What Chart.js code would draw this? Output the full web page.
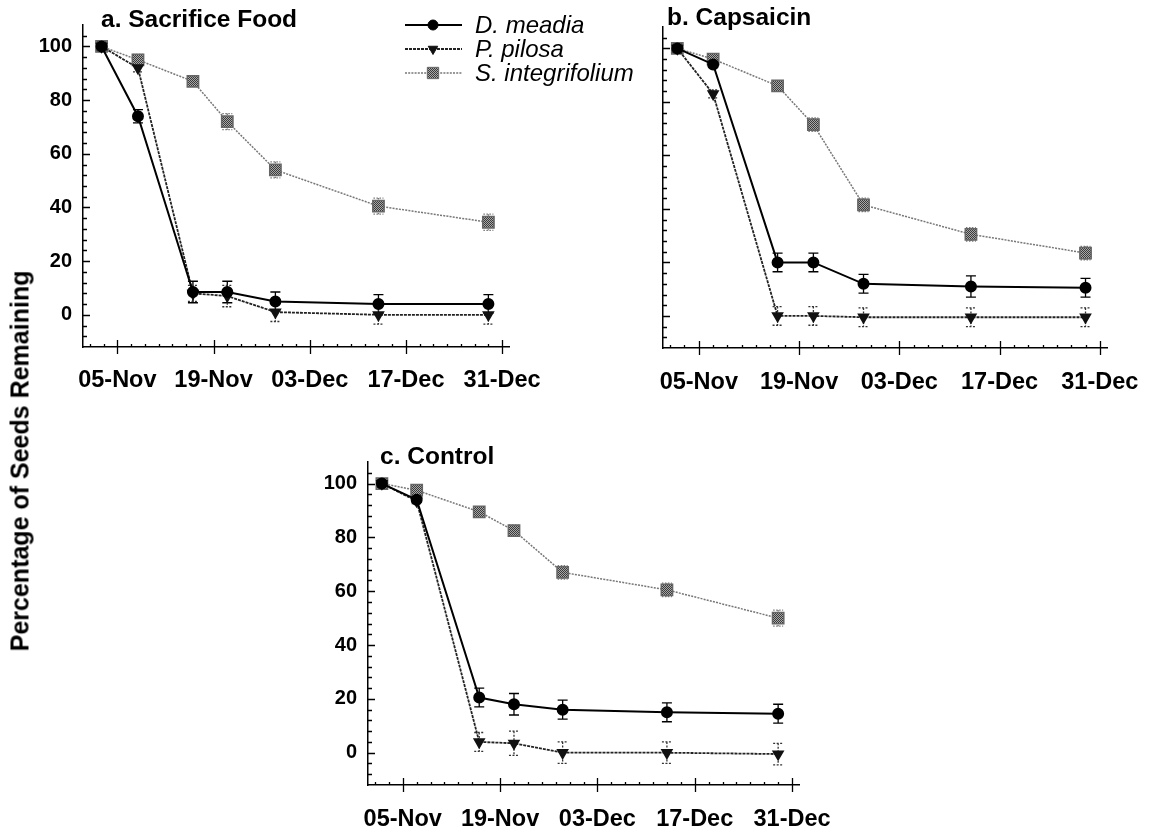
<!DOCTYPE html>
<html>
<head>
<meta charset="utf-8">
<script src="https://cdn.jsdelivr.net/npm/chart.js@4.4.1/dist/chart.umd.min.js"></script>
<style>
  body { margin: 0; background: #fff; width: 1161px; height: 832px; overflow: hidden; position: relative; font-family: 'Liberation Sans', Arial, sans-serif; }
  canvas { position: absolute; }
  .ttl { position: absolute; font-weight: bold; font-size: 24.5px; line-height: 24px; color: #000; white-space: nowrap; }
  #ylab { position: absolute; left: 20px; top: 461px; transform: translate(-50%, -50%) rotate(-90deg); font-weight: bold; font-size: 25px; white-space: nowrap; color: #000; }
</style>
</head>
<body>
<canvas id="chartA" width="660" height="400" style="left:0;top:0;width:660px;height:400px"></canvas>
<canvas id="chartB" width="561" height="400" style="left:600px;top:0;width:561px;height:400px"></canvas>
<canvas id="chartC" width="581" height="432" style="left:280px;top:400px;width:581px;height:432px"></canvas>
<div class="ttl" style="left:101px;top:7px">a. Sacrifice Food</div>
<div class="ttl" style="left:667px;top:5px">b. Capsaicin</div>
<div class="ttl" style="left:380px;top:444px">c. Control</div>
<div id="ylab">Percentage of Seeds Remaining</div>
<script>
'use strict'

// days counted from 05-Nov
const sampleDays = [-3, 2, 11, 16, 23, 38, 54];
const sampleDaysA = [-2.3, 3, 11, 16, 23, 38, 54];
const tickDays = [0, 14, 28, 42, 56];
const tickLabels = ['05-Nov', '19-Nov', '03-Dec', '17-Dec', '31-Dec'];
const yTicks = [0, 20, 40, 60, 80, 100];
const speciesNames = ['D. meadia', 'P. pilosa', 'S. integrifolium'];

// a. Sacrifice Food
const meadiaA = [100, 74, 8.5, 8.5, 5, 4, 4];
const meadiaErrA = [0, 2.5, 4, 4, 3.5, 3.5, 3.5];
const pilosaA = [100, 92, 8, 7, 1, 0, 0];
const pilosaErrA = [0, 1.5, 3, 4, 3.5, 3.5, 3.5];
const integA = [100, 95, 87, 72, 54, 40.5, 34.5];
const integErrA = [0, 2, 1, 3, 3, 3, 3];

// b. Capsaicin
const meadiaB = [100, 94, 20, 20, 12, 11, 10.5];
const meadiaErrB = [0, 1, 3.5, 3.5, 3.5, 4, 3.5];
const pilosaB = [100, 83, 0, 0, -0.5, -0.5, -0.5];
const pilosaErrB = [0, 1.5, 3.5, 3.5, 3.5, 3.5, 3.5];
const integB = [100, 96, 86, 71.5, 41.5, 30.5, 23.5];
const integErrB = [0, 1, 1, 2.5, 2.5, 2.5, 2.5];

// c. Control
const meadiaC = [100, 94, 20.5, 18, 16, 15, 14.5];
const meadiaErrC = [0, 1, 3.5, 4, 3.5, 3.5, 3.5];
const pilosaC = [100, 93.5, 4, 3.5, 0, 0, -0.5];
const pilosaErrC = [0, 1, 3.5, 4.5, 4, 4, 4];
const integC = [100, 97.5, 89.5, 82.5, 67, 60.5, 50];
const integErrC = [0, 1.5, 1, 2, 2.5, 2.5, 3];

Chart.defaults.font.family = "'Liberation Sans', Arial, sans-serif";
Chart.defaults.color = '#000';

// grainy grey fill for the squares
const patCanvas = document.createElement('canvas');
patCanvas.width = 2; patCanvas.height = 2;
const pctx = patCanvas.getContext('2d');
pctx.fillStyle = '#a8a8a8'; pctx.fillRect(0, 0, 2, 2);
pctx.fillStyle = '#3a3a3a'; pctx.fillRect(0, 0, 1, 1); pctx.fillRect(1, 1, 1, 1);
const squareFill = pctx.createPattern(patCanvas, 'repeat');

const styles = [
  { borderColor: '#000', borderWidth: 2, borderDash: [], pointStyle: 'circle', pointRadius: 5, pointRotation: 0,
    pointBackgroundColor: '#000', pointBorderColor: '#000', errColor: '#000', errDash: [] },
  { borderColor: '#222', borderWidth: 1.8, borderDash: [3, 1], pointStyle: 'triangle', pointRadius: 5.5, pointRotation: 180,
    pointBackgroundColor: '#111', pointBorderColor: '#111', errColor: '#333', errDash: [2, 1.5] },
  { borderColor: '#777', borderWidth: 1.5, borderDash: [2, 1.2], pointStyle: 'rect', pointRadius: 8, pointRotation: 0,
    pointBackgroundColor: squareFill, pointBorderColor: '#666', errColor: '#777', errDash: [1.5, 1.5] }
];

const errorBars = {
  id: 'errorBars',
  beforeDatasetsDraw(chart) {
    const ctx = chart.ctx, ys = chart.scales.y;
    chart.data.datasets.forEach((ds, i) => {
      const meta = chart.getDatasetMeta(i);
      ctx.save();
      ctx.strokeStyle = ds.errColor;
      ctx.lineWidth = 1.3;
      ctx.setLineDash(ds.errDash);
      meta.data.forEach((pt, j) => {
        const e = ds.errors[j];
        if (!e) return;
        const v = ds.data[j].y;
        const t = ys.getPixelForValue(v + e), b = ys.getPixelForValue(v - e);
        ctx.beginPath();
        ctx.moveTo(pt.x, t); ctx.lineTo(pt.x, b);
        ctx.moveTo(pt.x - 5, t); ctx.lineTo(pt.x + 5, t);
        ctx.moveTo(pt.x - 5, b); ctx.lineTo(pt.x + 5, b);
        ctx.stroke();
      });
      ctx.restore();
    });
  }
};

const axisTicks = {
  id: 'axisTicks',
  afterDraw(chart) {
    const ctx = chart.ctx, xs = chart.scales.x, ys = chart.scales.y;
    const area = chart.chartArea;
    ctx.save();
    ctx.strokeStyle = '#000';
    ctx.lineWidth = 1.3;
    ctx.beginPath();
    for (let d = -4; d <= 56; d += 2) {
      const px = Math.round(xs.getPixelForValue(d)) + 0.5;
      if (d % 14 === 0) { ctx.moveTo(px, area.bottom - 7); ctx.lineTo(px, area.bottom + 7); }
      else { ctx.moveTo(px, area.bottom - 3); ctx.lineTo(px, area.bottom); }
    }
    for (let v = -8; v <= 104; v += 4) {
      const py = Math.round(ys.getPixelForValue(v)) + 0.5;
      const len = v % 20 === 0 ? 7 : 4;
      ctx.moveTo(area.left, py); ctx.lineTo(area.left + len, py);
    }
    ctx.stroke();
    ctx.restore();
  }
};

const seriesLegend = {
  id: 'seriesLegend',
  afterDraw(chart) {
    if (!chart.options.plugins.seriesLegend.show) return;
    const ctx = chart.ctx;
    const x0 = chart.chartArea.left + 322;
    chart.data.datasets.forEach((ds, i) => {
      const y = chart.chartArea.top + i * 24;
      ctx.save();
      ctx.strokeStyle = ds.borderColor;
      ctx.lineWidth = ds.borderWidth;
      ctx.setLineDash(ds.borderDash);
      ctx.beginPath(); ctx.moveTo(x0, y); ctx.lineTo(x0 + 57, y); ctx.stroke();
      ctx.setLineDash([]);
      ctx.fillStyle = ds.pointBackgroundColor;
      ctx.strokeStyle = ds.pointBorderColor;
      ctx.lineWidth = 1;
      Chart.helpers.drawPoint(ctx, { pointStyle: ds.pointStyle, radius: ds.pointRadius, rotation: ds.pointRotation, borderWidth: 1 }, x0 + 28, y);
      ctx.fillStyle = '#000';
      ctx.font = "italic 24px 'Liberation Sans', Arial, sans-serif";
      ctx.textBaseline = 'middle';
      ctx.fillText(ds.label, x0 + 70, y + 1);
      ctx.restore();
    });
  }
};

function makePanel(id, days, series, errs, box) {
  const datasets = series.map((vals, k) => Object.assign({
    label: speciesNames[k],
    data: vals.map((v, i) => ({ x: days[i], y: v })),
    errors: errs[k],
    fill: false,
    tension: 0
  }, styles[k]));

  return new Chart(document.getElementById(id), {
    type: 'line',
    data: { datasets: datasets },
    options: {
      responsive: false,
      animation: false,
      events: [],
      layout: { padding: { left: 0, top: box.top, right: box.right, bottom: 0 } },
      plugins: { legend: { display: false }, tooltip: { enabled: false }, seriesLegend: { show: box.legend } },
      scales: {
        x: {
          type: 'linear', min: -5, max: 57,
          grid: { display: false, drawTicks: false },
          border: { display: true, color: '#000', width: 1.5 },
          afterBuildTicks: s => { s.ticks = tickDays.map(v => ({ value: v })); },
          afterFit: s => { s.height = box.xh; },
          ticks: {
            padding: box.xpad,
            maxRotation: 0, autoSkip: false,
            font: { size: 23.5, weight: 'bold' },
            callback: (v, i) => tickLabels[i]
          }
        },
        y: {
          min: -12, max: 108,
          grid: { display: false, drawTicks: false },
          border: { display: true, color: '#000', width: 1.5 },
          afterBuildTicks: s => { s.ticks = yTicks.map(v => ({ value: v })); },
          afterFit: s => { s.width = box.yw; },
          ticks: { display: box.ylabels, padding: 11, font: { size: 20, weight: 'bold' } }
        }
      }
    },
    plugins: [errorBars, axisTicks, seriesLegend]
  });
}

makePanel('chartA', sampleDaysA, [meadiaA, pilosaA, integA], [meadiaErrA, pilosaErrA, integErrA],
  { top: 25, right: 151, xh: 53, yw: 83, xpad: 19, ylabels: true, legend: true });
makePanel('chartB', sampleDays, [meadiaB, pilosaB, integB], [meadiaErrB, pilosaErrB, integErrB],
  { top: 27, right: 54, xh: 52, yw: 63, xpad: 20, ylabels: false, legend: false });
makePanel('chartC', sampleDays, [meadiaC, pilosaC, integC], [meadiaErrC, pilosaErrC, integErrC],
  { top: 62, right: 62, xh: 47, yw: 88, xpad: 20, ylabels: true, legend: false });
</script>
</body>
</html>
